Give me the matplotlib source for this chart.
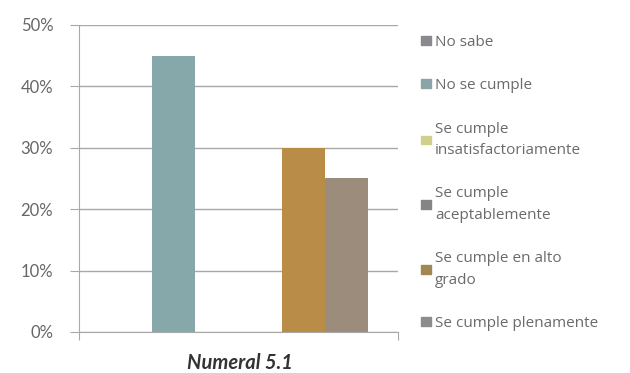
import matplotlib
matplotlib.use('Agg')
import matplotlib.pyplot as plt
import numpy as np

# series shown for the single item "Numeral 5.1"
series = ['No sabe', 'No se cumple', 'Se cumple\ninsatisfactoriamente',
          'Se cumple\naceptablemente', 'Se cumple en alto\ngrado',
          'Se cumple plenamente']
values = [0, 45, 0, 0, 30, 25]          # percent
bar_colors = ['#8c8a90', '#86a8aa', '#c9c98e', '#868686', '#b98c48', '#9c8c7b']
legend_colors = ['#8a8a8e', '#8aa4a8', '#d0d08a', '#858585', '#a08850', '#8c8c8c']
category = 'Numeral 5.1'
yticks = [0, 10, 20, 30, 40, 50]

plt.rcParams['font.family'] = ['Lato', 'DejaVu Sans']

fig = plt.figure(figsize=(6.3, 3.73), dpi=100)
ax = fig.add_axes([0.1254, 0.110, 0.632 - 0.1254, 0.933 - 0.110])

w = 0.135
handles = []
for i, (lab, v) in enumerate(zip(series, values)):
    ax.bar((i - 2.5) * w, v, width=w, color=bar_colors[i], zorder=3)
    handles.append(plt.Rectangle((0, 0), 1, 1, color=legend_colors[i]))

ax.set_xlim(-0.5, 0.5)
ax.set_ylim(0, 50)
ax.set_yticks(yticks)
ax.set_yticklabels([f'{t}%' for t in yticks])
ax.set_xticks([-0.5, 0.5])
ax.set_xticklabels(['', ''])
ax.tick_params(axis='y', length=6.5, color='#a8a8a8', labelsize=12,
               labelcolor='#666666', pad=12)
ax.tick_params(axis='x', length=6, color='#a8a8a8')
ax.grid(axis='y', color='#a8a8a8', linewidth=1, zorder=0)
for s in ['top', 'right']:
    ax.spines[s].set_visible(False)
ax.spines['left'].set_color('#a8a8a8')
ax.spines['bottom'].set_color('#a8a8a8')

fig.text(0.381, 0.028, category, ha='center', va='center', fontsize=14.5,
         fontweight='bold', fontstyle='italic', color='#333333')

leg = fig.legend(handles, series, loc='upper left',
                 bbox_to_anchor=(0.647, 0.943), frameon=False,
                 handlelength=0.6, handleheight=0.5, handletextpad=0.3,
                 labelspacing=1.85, prop={'family': 'Open Sans', 'size': 11},
                 labelcolor='#6a6a6a')
for t in leg.get_texts():
    t.set_linespacing(1.6)

plt.savefig('out.png', dpi=100)
